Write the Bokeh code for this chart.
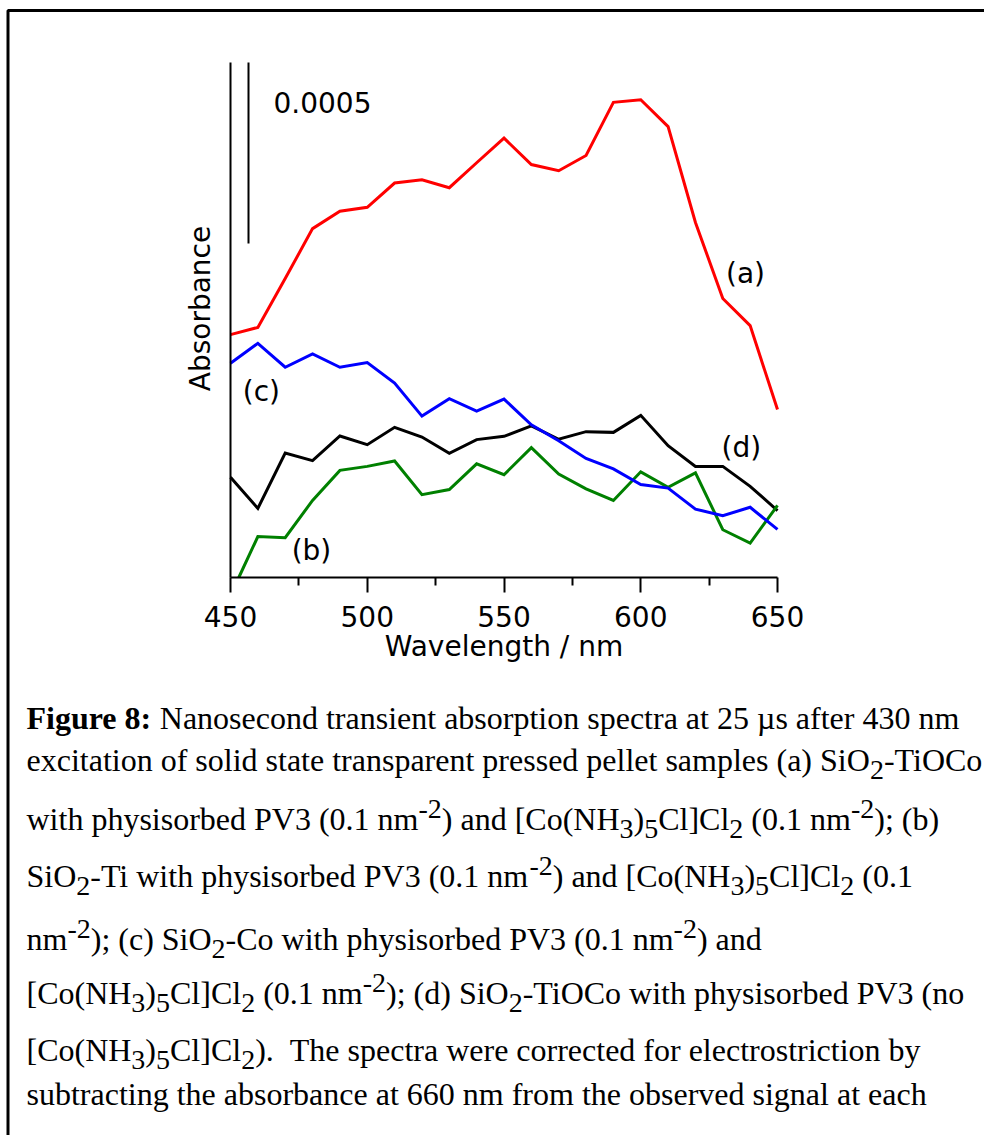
import math

from bokeh.plotting import figure
from bokeh.models import Range1d, LinearAxis, FixedTicker, ColumnDataSource
from bokeh.core.properties import value
from bokeh.embed import file_html
from bokeh.resources import INLINE

# ---- spectra: transient absorbance in units of 1e-4 (traces offset vertically) ----
wavelength = [450, 460, 470, 480, 490, 500, 510, 520, 530, 540, 550,
              560, 570, 580, 590, 600, 610, 620, 630, 640, 650]

abs_a = [6.71, 6.91, 8.26, 9.64, 10.12, 10.23, 10.90, 10.99, 10.77, 11.46, 12.14,
         11.41, 11.24, 11.66, 13.13, 13.20, 12.46, 9.81, 7.71, 6.96, 4.64]
abs_b = [-0.49, 1.13, 1.10, 2.13, 2.96, 3.07, 3.22, 2.29, 2.43, 3.14, 2.84,
         3.59, 2.86, 2.45, 2.13, 2.92, 2.49, 2.89, 1.32, 0.95, 1.99]
abs_c = [5.92, 6.47, 5.81, 6.18, 5.81, 5.94, 5.37, 4.46, 4.94, 4.60, 4.93,
         4.22, 3.78, 3.29, 3.00, 2.57, 2.47, 1.89, 1.71, 1.94, 1.33]
abs_d = [2.77, 1.91, 3.44, 3.23, 3.91, 3.67, 4.15, 3.88, 3.43, 3.81, 3.90,
         4.19, 3.82, 4.03, 4.01, 4.48, 3.64, 3.07, 3.07, 2.52, 1.85]

series_names = ["(a)", "(b)", "(c)", "(d)"]
series_colors = ["#ff0000", "#008000", "#0000ff", "#000000"]
# label anchor (wavelength, absorbance) for each trace
label_x = [638.3, 479.6, 461.3, 636.8]
label_y = [8.40, 0.75, 5.14, 3.59]

x_ticks = [450, 500, 550, 600, 650]
x_minor = [475, 525, 575, 625]
scale_bar = 5.0            # 0.0005 expressed in the 1e-4 units above
scale_text = "0.0005"
axis_top = 14.23           # top of the absorbance axis line
x_title = "Wavelength / nm"
y_title = "Absorbance"

# ---- caption: (text, style) fragments per line ----
caption_lines = [
    [("Figure 8:", "b"), (" Nanosecond transient absorption spectra at 25 µs after 430 nm", "n")],
    [("excitation of solid state transparent pressed pellet samples (a) SiO", "n"), ("2", "sub"),
     ("-TiOCo", "n")],
    [("with physisorbed PV3 (0.1 nm", "n"), ("-2", "sup"), (") and [Co(NH", "n"), ("3", "sub"),
     (")", "n"), ("5", "sub"), ("Cl]Cl", "n"), ("2", "sub"), (" (0.1 nm", "n"), ("-2", "sup"),
     ("); (b)", "n")],
    [("SiO", "n"), ("2", "sub"), ("-Ti with physisorbed PV3 (0.1 nm", "n"), ("-2", "sup"),
     (") and [Co(NH", "n"), ("3", "sub"), (")", "n"), ("5", "sub"), ("Cl]Cl", "n"), ("2", "sub"),
     (" (0.1", "n")],
    [("nm", "n"), ("-2", "sup"), ("); (c) SiO", "n"), ("2", "sub"),
     ("-Co with physisorbed PV3 (0.1 nm", "n"), ("-2", "sup"), (") and", "n")],
    [("[Co(NH", "n"), ("3", "sub"), (")", "n"), ("5", "sub"), ("Cl]Cl", "n"), ("2", "sub"),
     (" (0.1 nm", "n"), ("-2", "sup"), ("); (d) SiO", "n"), ("2", "sub"),
     ("-TiOCo with physisorbed PV3 (no", "n")],
    [("[Co(NH", "n"), ("3", "sub"), (")", "n"), ("5", "sub"), ("Cl]Cl", "n"), ("2", "sub"),
     (").", "n"), ("  The spectra were corrected for electrostriction by", "n")],
    [("subtracting the absorbance at 660 nm from the observed signal at each", "n")],
]
caption_baselines = [717, 759, 818, 875, 938, 992, 1049, 1093]

# ---- page geometry (pixels) ----
W, H = 984, 1135
FRAME_L, FRAME_R = 230, 777      # pixel x of 450 nm and 650 nm
AXIS_Y, AXIS_TOP_Y = 577, 62     # pixel y of zero and of the axis top
CAP_X = 26
CAP_SIZE, SUB_SIZE = 32, 28
SUB_DY, SUP_DY = 10, -10

px_per_nm = (FRAME_R - FRAME_L) / (x_ticks[-1] - x_ticks[0])
px_per_unit = (AXIS_Y - AXIS_TOP_Y) / axis_top

p = figure(width=W, height=H, title=None,
           x_range=Range1d(x_ticks[0] - FRAME_L / px_per_nm, x_ticks[0] + (W - FRAME_L) / px_per_nm),
           y_range=Range1d(-(H - AXIS_Y) / px_per_unit, AXIS_Y / px_per_unit),
           x_axis_type=None, y_axis_type=None, toolbar_location=None,
           output_backend="svg", min_border=0, outline_line_color=None)
p.background_fill_color = "white"
p.border_fill_color = "white"
p.extra_x_ranges = {"px": Range1d(0, W)}
p.extra_y_ranges = {"px": Range1d(H, 0)}

FONT = value("DejaVu Sans")

xaxis = LinearAxis(fixed_location=0, bounds=(x_ticks[0], x_ticks[-1]),
                   ticker=FixedTicker(ticks=x_ticks, minor_ticks=x_minor),
                   axis_label=x_title)
xaxis.axis_line_width = 2
xaxis.major_tick_line_width = 2
xaxis.minor_tick_line_width = 2
xaxis.major_tick_in = 0
xaxis.major_tick_out = 15
xaxis.minor_tick_in = 0
xaxis.minor_tick_out = 8
xaxis.major_label_text_font = "DejaVu Sans"
xaxis.major_label_text_font_size = "28px"
xaxis.major_label_text_color = "black"
xaxis.major_label_standoff = 13
xaxis.axis_label_text_font = "DejaVu Sans"
xaxis.axis_label_text_font_size = "28px"
xaxis.axis_label_text_font_style = "normal"
xaxis.axis_label_text_color = "black"
xaxis.axis_label_standoff = 0
p.add_layout(xaxis, "below")

# absorbance axis: a bare line, no ticks (the scale bar gives the magnitude)
yaxis = LinearAxis(fixed_location=x_ticks[0], bounds=(0, axis_top),
                   ticker=FixedTicker(ticks=[]))
yaxis.axis_line_width = 2
yaxis.major_tick_out = 0
yaxis.minor_tick_out = 0
yaxis.major_label_text_font_size = "0px"
p.add_layout(yaxis, "left")

p.text(x=[x_ticks[0] - 30 / px_per_nm], y=[(AXIS_Y - 308) / px_per_unit], text=[y_title],
       angle=math.pi / 2, text_font=FONT, text_font_size="28px",
       text_align="center", text_baseline="middle", text_color="black")


def clip_below_zero(xs, ys):
    """Trim the leading part of a trace that lies below the wavelength axis."""
    xs, ys = list(xs), list(ys)
    if ys[0] < 0 < ys[1]:
        t = -ys[0] / (ys[1] - ys[0])
        xs[0] = xs[0] + t * (xs[1] - xs[0])
        ys[0] = 0.0
    return xs, ys


for ys, color in zip([abs_d, abs_b, abs_c, abs_a], [series_colors[3], series_colors[1],
                                                     series_colors[2], series_colors[0]]):
    xs, yc = clip_below_zero(wavelength, ys)
    p.line(xs, yc, line_color=color, line_width=3, line_join="miter")

p.text(x=label_x, y=label_y, text=series_names, text_font=FONT, text_font_size="28px",
       text_align="center", text_baseline="middle", text_color="black")

# 0.0005 scale bar hanging from the top of the absorbance axis
bar_x = x_ticks[0] + 18 / px_per_nm
p.segment(x0=[bar_x], y0=[axis_top - scale_bar], x1=[bar_x], y1=[axis_top],
          line_color="black", line_width=2)
p.text(x=[x_ticks[0] + 43 / px_per_nm], y=[axis_top - 1.1], text=[scale_text], text_font=FONT,
       text_font_size="28px", text_align="left", text_baseline="middle", text_color="black")

# ---- caption layout with Times-compatible advance widths ----
TIMES = {" ": 250, "(": 333, ")": 333, "-": 333, ".": 250, ":": 278, ";": 278, "[": 333, "]": 333,
         "/": 278, "µ": 500,
         "A": 722, "B": 667, "C": 667, "D": 722, "E": 611, "F": 556, "G": 722, "H": 722, "I": 333,
         "J": 389, "K": 722, "L": 611, "M": 889, "N": 722, "O": 722, "P": 556, "Q": 722, "R": 667,
         "S": 556, "T": 611, "U": 722, "V": 722, "W": 944, "X": 722, "Y": 722, "Z": 611,
         "a": 444, "b": 500, "c": 444, "d": 500, "e": 444, "f": 333, "g": 500, "h": 500, "i": 278,
         "j": 278, "k": 500, "l": 278, "m": 778, "n": 500, "o": 500, "p": 500, "q": 500, "r": 333,
         "s": 389, "t": 278, "u": 500, "v": 500, "w": 722, "x": 500, "y": 500, "z": 444}
TIMES_BOLD = {"F": 611, "u": 556, "r": 444, ":": 333}


def advance(text, style):
    size = SUB_SIZE if style in ("sub", "sup") else CAP_SIZE
    table = dict(TIMES, **TIMES_BOLD) if style == "b" else TIMES
    return sum(table.get(ch, 500) for ch in text) / 1000.0 * size


frags = {"n": ([], [], []), "b": ([], [], []), "s": ([], [], [])}
for line, base in zip(caption_lines, caption_baselines):
    cx = CAP_X
    for text, style in line:
        # leading blanks are not kept by SVG text, so turn them into an offset
        lead = len(text) - len(text.lstrip(" "))
        cx += advance(" " * lead, style)
        text = text.lstrip(" ")
        if style == "sub":
            key, yy = "s", base + SUB_DY
        elif style == "sup":
            key, yy = "s", base + SUP_DY
        else:
            key, yy = style, base
        frags[key][0].append(cx)
        frags[key][1].append(yy)
        frags[key][2].append(text)
        cx += advance(text, style)

SERIF = value("Liberation Serif")
for key, size, fstyle in [("n", CAP_SIZE, "normal"), ("b", CAP_SIZE, "bold"), ("s", SUB_SIZE, "normal")]:
    xs, ys, ts = frags[key]
    src = ColumnDataSource(dict(x=xs, y=ys, text=ts))
    p.text(x="x", y="y", text="text", source=src, x_range_name="px", y_range_name="px",
           text_font=SERIF, text_font_size=f"{size}px", text_font_style=fstyle,
           text_align="left", text_baseline="alphabetic", text_color="black")

# page frame
p.quad(left=[7.5], right=[W + 10], top=[10], bottom=[H + 10], x_range_name="px", y_range_name="px",
       fill_color=None, line_color="black", line_width=3)

open("out.html", "w").write(file_html(p, INLINE))
